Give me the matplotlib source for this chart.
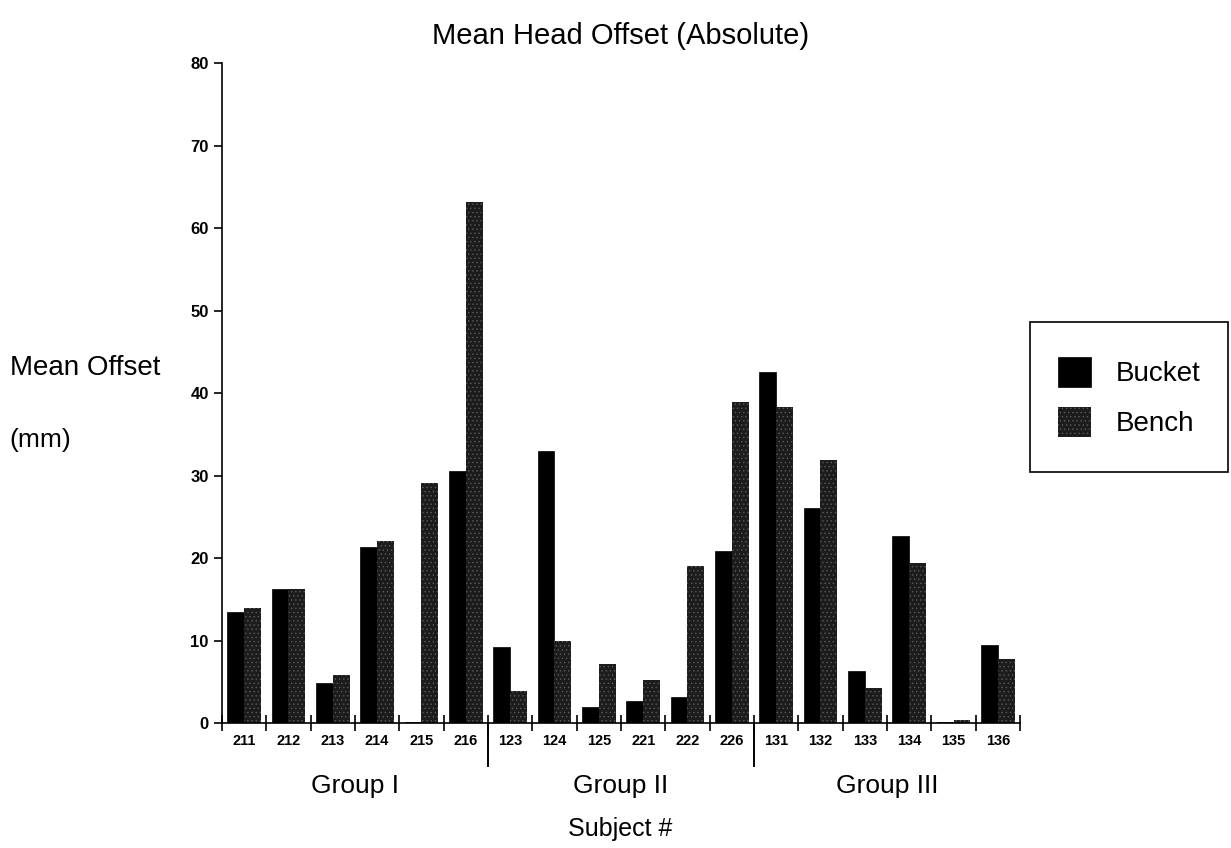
import numpy as np
import matplotlib
matplotlib.use("Agg")
import matplotlib.pyplot as plt
import matplotlib.transforms as mtransforms
from matplotlib.patches import Rectangle

plt.rcParams['font.family'] = ['Liberation Sans', 'DejaVu Sans']
plt.rcParams['hatch.linewidth'] = 0.5

subjects = ['211', '212', '213', '214', '215', '216',
            '123', '124', '125', '221', '222', '226',
            '131', '132', '133', '134', '135', '136']
bucket = [13.5, 16.3, 4.8, 21.3, 0.1, 30.6,
          9.2, 33.0, 1.9, 2.7, 3.1, 20.8,
          42.6, 26.1, 6.3, 22.7, 0.1, 9.4]
bench = [13.9, 16.3, 5.8, 22.1, 29.1, 63.2,
         3.9, 9.9, 7.2, 5.2, 19.0, 38.9,
         38.3, 31.9, 4.3, 19.4, 0.4, 7.8]
groups = ['Group I', 'Group II', 'Group III']
group_sizes = [6, 6, 6]

fig = plt.figure(figsize=(12.31, 8.48), dpi=100)
ax = fig.add_axes([0.1803, 0.1474, 0.6483, 0.7783])

x = np.arange(len(subjects)) + 0.5
w = 0.38
ax.bar(x - w / 2, bucket, w, color='black', edgecolor='black', linewidth=0.5,
       label='Bucket')
ax.bar(x + w / 2, bench, w, facecolor='#1c1c1c', edgecolor='#5a5a5a',
       linewidth=0, hatch='....', label='Bench')

ax.set_xlim(0, len(subjects))
ax.set_ylim(0, 80)
ax.spines['top'].set_visible(False)
ax.spines['right'].set_visible(False)
ax.spines['left'].set_linewidth(1.2)
ax.spines['bottom'].set_linewidth(1.2)

ax.set_yticks(np.arange(0, 81, 10))
ax.tick_params(axis='y', direction='out', length=6, width=1.2, labelsize=12)
for lab in ax.get_yticklabels():
    lab.set_fontweight('bold')

ax.set_xticks(x)
ax.set_xticklabels(subjects, fontsize=10.5, fontweight='bold')
ax.tick_params(axis='x', which='major', length=0, pad=8)
ax.set_xticks(np.arange(0, len(subjects) + 1), minor=True)
ax.tick_params(axis='x', which='minor', direction='inout', length=12, width=1.2)

# group separators and group names
trans = mtransforms.blended_transform_factory(ax.transData, ax.transAxes)
edges = np.cumsum(group_sizes)
for e in edges[:-1]:
    ax.plot([e, e], [0, -0.065], transform=trans, color='black', lw=1.4,
            clip_on=False)
start = 0
for g, n in zip(groups, group_sizes):
    ax.text(start + n / 2, -0.095, g, transform=trans, ha='center', va='center',
            fontsize=19)
    start += n

fig.text(0.504, 0.022, 'Subject #', ha='center', va='center', fontsize=18)
fig.text(0.504, 0.958, 'Mean Head Offset (Absolute)', ha='center',
         va='center', fontsize=21)
fig.text(0.008, 0.566, 'Mean Offset', ha='left', va='center', fontsize=20)
fig.text(0.008, 0.481, '(mm)', ha='left', va='center', fontsize=19)

# legend box drawn separately so its size matches the original
box = (0.8367, 0.4434, 0.161, 0.177)
fig.patches.append(Rectangle(box[:2], box[2], box[3], transform=fig.transFigure,
                             facecolor='white', edgecolor='black', lw=1.2))
fig.legend(loc='center', bbox_to_anchor=box, fontsize=20, frameon=False,
           handlelength=1.2, handleheight=1.3, labelspacing=0.72,
           handletextpad=0.9, borderpad=0.3)

fig.savefig('out.png', dpi=100)
